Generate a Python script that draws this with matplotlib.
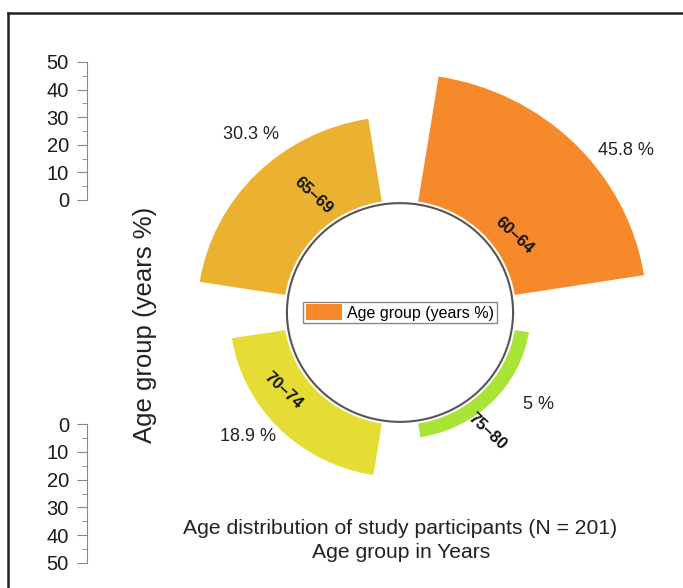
import numpy as np
import matplotlib.pyplot as plt
from matplotlib.lines import Line2D
from matplotlib.ticker import MultipleLocator

plt.rcParams['font.family'] = ['Liberation Sans', 'DejaVu Sans']

# age groups and their share of participants (%)
groups = ['60–64', '65–69', '70–74', '75–80']
share = [45.8, 30.3, 18.9, 5.0]
colors = ['#F68A2B', '#EBB231', '#E5DD33', '#A8E436']

W, H = 683, 588
fig = plt.figure(figsize=(W / 100, H / 100), dpi=100)


def box(x0, y0, x1, y1):
    # pixel box (top-left origin) -> figure fraction rect
    return [x0 / W, 1 - y1 / H, (x1 - x0) / W, (y1 - y0) / H]


# polar bars sitting on a hollow centre
hole = 40.7
ax = fig.add_axes(box(141, 62, 659, 563), projection='polar')
ax.set_aspect('auto')
theta = np.radians(45 + 90 * np.arange(len(share)))
ax.bar(theta, share, width=np.radians(72), bottom=hole, color=colors,
       edgecolor='none', label='Age group (years %)')
ring = np.linspace(0, 2 * np.pi, 400)
ax.plot(ring, np.full_like(ring, 39.6), color='#555555', lw=1.5)
ax.set_ylim(0, hole + 50)
ax.set_xticks([])
ax.set_yticks([])
ax.grid(False)
ax.spines['polar'].set_visible(False)

# group names inside the bars, values outside
lab_dth = [10, 9.5, 10.5, 9.5]
lab_dr = [8, 11.5, 9, 12]
val_dth = [8.5, 6, 5, -10.5]
val_dr = [12, 12, 10, 13]
for i in range(len(share)):
    ax.text(theta[i] - np.radians(lab_dth[i]), hole + lab_dr[i], groups[i],
            rotation=-43, ha='center', va='center', fontsize=12,
            fontweight='bold', color='#111111')
    ax.text(theta[i] - np.radians(val_dth[i]), hole + share[i] + val_dr[i],
            f'{share[i]:g} %', ha='center', va='center', fontsize=13,
            color='#222222')

leg = ax.legend(loc='center', bbox_to_anchor=(0.5, 0.5), fancybox=False,
                edgecolor='#888888', framealpha=1, fontsize=11.5,
                handlelength=2.3, handleheight=1.1, handletextpad=0.3,
                borderpad=0.15, borderaxespad=0)
leg.get_frame().set_linewidth(1.0)


# radial scales on the left
def scale(y0, y1, flip):
    a = fig.add_axes(box(87, y0, 90, y1))
    a.set_ylim((50, 0) if flip else (0, 50))
    for s in ['top', 'right', 'bottom']:
        a.spines[s].set_visible(False)
    a.spines['left'].set_color('#888888')
    a.set_xticks([])
    a.yaxis.set_major_locator(MultipleLocator(10))
    a.yaxis.set_minor_locator(MultipleLocator(5))
    a.tick_params(which='major', length=7, color='#888888', labelsize=14.5,
                  pad=6, labelcolor='#1a1a1a')
    a.tick_params(which='minor', length=3.5, color='#888888')
    a.patch.set_visible(False)


scale(62, 200, False)
scale(424, 563, True)

fig.text(145 / W, 1 - 325 / H, 'Age group (years %)', rotation=90,
         fontsize=18.5, ha='center', va='center', color='#222222')
fig.text(400 / W, 1 - 528 / H, 'Age distribution of study participants (N = 201)',
         fontsize=15.2, ha='center', va='center', color='#222222')
fig.text(401 / W, 1 - 552 / H, 'Age group in Years',
         fontsize=15.2, ha='center', va='center', color='#222222')

# frame
fig.add_artist(Line2D([8 / W, 8 / W], [0, 1 - 13 / H], color='#222222',
                      lw=1.8, transform=fig.transFigure))
fig.add_artist(Line2D([8 / W, 1], [1 - 13 / H, 1 - 13 / H], color='#222222',
                      lw=1.8, transform=fig.transFigure))

fig.savefig('out.png', dpi=100)
